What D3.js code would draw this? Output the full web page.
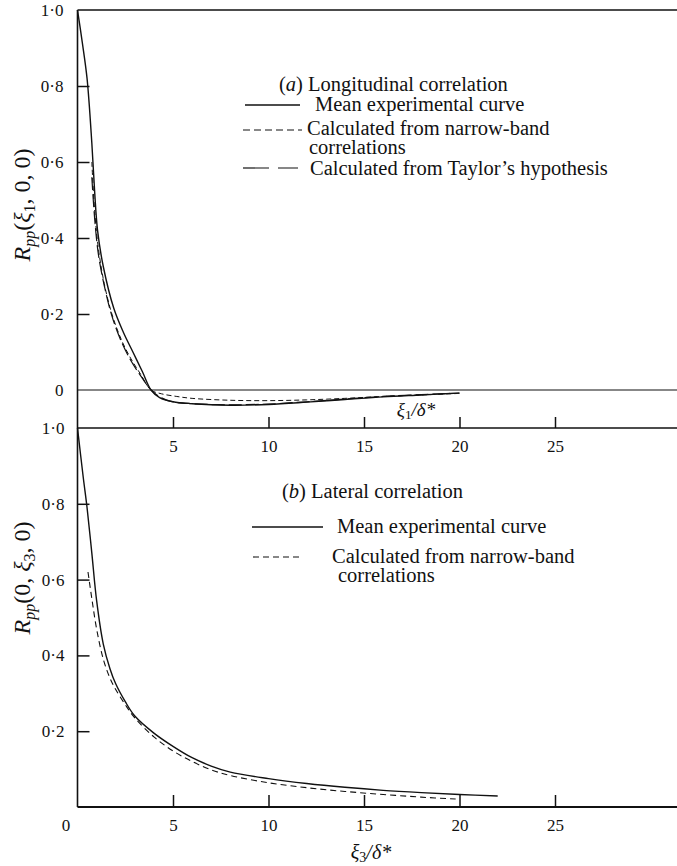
<!DOCTYPE html>
<html><head><meta charset="utf-8">
<script src="https://cdn.jsdelivr.net/npm/d3@7"></script>
<style>
body{margin:0;background:#fff;}
svg text{font-family:"Liberation Serif","Times New Roman",serif;fill:#111;}
</style></head>
<body>
<svg id="chart" width="677" height="866"></svg>
<script>
// ---- data ----
const xTicks = [5, 10, 15, 20, 25];
const xTicksBottom = [0, 5, 10, 15, 20, 25];
const yTicksA = [0, 0.2, 0.4, 0.6, 0.8, 1.0];
const yTicksB = [0.2, 0.4, 0.6, 0.8, 1.0];

// (a) Longitudinal correlation
const aMeanX = [0, 0.25, 0.5, 0.75, 0.9, 1.05, 1.35, 1.9, 2.4, 2.9, 3.4, 3.85, 4.3, 5, 6, 8, 10, 12, 14, 16, 18, 20];
const aMeanY = [1.0, 0.915, 0.82, 0.65, 0.52, 0.42, 0.325, 0.215, 0.152, 0.1, 0.048, 0.0, -0.02, -0.031, -0.036, -0.040, -0.038, -0.032, -0.025, -0.018, -0.013, -0.008];
const aNarrowX = [0.75, 0.9, 1.1, 1.4, 1.8, 2.3, 2.8, 3.3, 3.85, 4.4, 5.2, 6, 8, 10, 12, 14, 16, 18, 20];
const aNarrowY = [0.6, 0.47, 0.37, 0.28, 0.2, 0.132, 0.082, 0.042, 0.0, -0.01, -0.017, -0.022, -0.027, -0.028, -0.026, -0.022, -0.017, -0.013, -0.009];
const aTaylorX = [0.75, 0.9, 1.1, 1.4, 1.8, 2.3, 2.8, 3.3, 3.85, 4.3, 4.9, 6, 8, 10, 12, 14, 16, 18, 19.5];
const aTaylorY = [0.56, 0.45, 0.355, 0.275, 0.195, 0.127, 0.077, 0.038, 0.0, -0.018, -0.03, -0.036, -0.039, -0.037, -0.031, -0.024, -0.017, -0.012, -0.009];

// (b) Lateral correlation
const bMeanX = [0, 0.3, 0.5, 0.75, 1.0, 1.35, 1.7, 2.0, 2.5, 3.0, 4.0, 5.0, 6.0, 7.0, 8.0, 10, 12, 14, 16, 18, 20, 22];
const bMeanY = [1.0, 0.87, 0.79, 0.67, 0.545, 0.43, 0.365, 0.325, 0.278, 0.24, 0.195, 0.16, 0.13, 0.108, 0.092, 0.075, 0.062, 0.052, 0.044, 0.038, 0.033, 0.029];
const bNarrowX = [0.55, 0.75, 1.0, 1.35, 1.7, 2.0, 2.5, 3.0, 4.0, 5, 6, 7, 8, 10, 12, 14, 16, 18, 19.8];
const bNarrowY = [0.62, 0.55, 0.47, 0.39, 0.34, 0.31, 0.27, 0.235, 0.185, 0.148, 0.12, 0.098, 0.083, 0.064, 0.051, 0.041, 0.033, 0.026, 0.021];

const fmt = v => v === 0 ? "0" : d3.format(".1f")(v).replace(".", "\u00B7");

// ---- scales ----
const svg = d3.select("#chart");
const x = d3.scaleLinear().domain([0, 25]).range([77.5, 77.5 + 25 * 19.1]);
const yA = d3.scaleLinear().domain([0, 1]).range([390, 10]);
const yB = d3.scaleLinear().domain([0, 1]).range([807, 428]);
const rightEdge = 677;

const frame = svg.append("g").attr("stroke", "#111").attr("fill", "none");
frame.append("line").attr("x1", x(0)).attr("x2", x(0)).attr("y1", yA(1)).attr("y2", yB(0)).attr("stroke-width", 1.6);
[[yA(1), 1.6], [yA(0), 1.1], [yB(1), 1.6], [yB(0), 1.8]].forEach(([yy, w]) => {
  frame.append("line").attr("x1", x(0)).attr("x2", rightEdge).attr("y1", yy).attr("y2", yy).attr("stroke-width", w);
});

function styleAxis(g) {
  g.select(".domain").remove();
  g.selectAll(".tick line").attr("stroke", "#111").attr("stroke-width", 1.5);
  g.selectAll(".tick text").attr("font-size", 17).attr("fill", "#111")
    .attr("font-family", "Liberation Serif, serif");
}

svg.append("g").attr("transform", `translate(${x(0)},0)`)
  .call(d3.axisLeft(yA).tickValues(yTicksA).tickSize(-12).tickPadding(14).tickFormat(fmt))
  .call(styleAxis)
  .call(g => g.selectAll(".tick line").filter(d => d === 0 || d === 1).remove());
svg.append("g").attr("transform", `translate(${x(0)},0)`)
  .call(d3.axisLeft(yB).tickValues(yTicksB).tickSize(-12).tickPadding(13).tickFormat(fmt))
  .call(styleAxis)
  .call(g => g.selectAll(".tick line").filter(d => d === 1).remove());

svg.append("g").attr("transform", `translate(0,${yB(1)})`)
  .call(d3.axisBottom(x).tickValues(xTicks).tickSize(-11).tickPadding(12).tickFormat(d3.format("d")))
  .call(styleAxis);
svg.append("g").attr("transform", `translate(0,${yB(0)})`)
  .call(d3.axisBottom(x).tickValues(xTicksBottom).tickSize(-12).tickPadding(12).tickFormat(d3.format("d")))
  .call(styleAxis)
  .call(g => {
    g.selectAll(".tick").filter(d => d === 0).select("line").remove();
    g.selectAll(".tick").filter(d => d === 0).select("text").attr("x", -12);
  });

// ---- curves ----
const line = (ys) => d3.line().x(d => x(d[0])).y(d => ys(d[1])).curve(d3.curveCatmullRom.alpha(0.5));
const zip = (a, b) => a.map((v, i) => [v, b[i]]);
const curves = svg.append("g").attr("fill", "none").attr("stroke", "#111");
curves.append("path").attr("d", line(yA)(zip(aMeanX, aMeanY))).attr("stroke-width", 1.4);
curves.append("path").attr("d", line(yA)(zip(aNarrowX, aNarrowY))).attr("stroke-width", 1.0).attr("stroke-dasharray", "5,3");
curves.append("path").attr("d", line(yA)(zip(aTaylorX, aTaylorY))).attr("stroke-width", 1.2).attr("stroke-dasharray", "13,4");
curves.append("path").attr("d", line(yB)(zip(bMeanX, bMeanY))).attr("stroke-width", 1.4);
curves.append("path").attr("d", line(yB)(zip(bNarrowX, bNarrowY))).attr("stroke-width", 1.1).attr("stroke-dasharray", "6,4");

// ---- legends ----
const LF = 20.5;
function txt(xp, yp, size) {
  return svg.append("text").attr("x", xp).attr("y", yp).attr("font-size", size);
}
function twoLine(xp, yp, l1, x2, l2, gap) {
  const t = txt(xp, yp, LF);
  t.append("tspan").attr("x", xp).text(l1);
  t.append("tspan").attr("x", x2).attr("dy", gap).text(l2);
}
function leg(x1, x2, yp, dash, w) {
  svg.append("line").attr("x1", x1).attr("x2", x2).attr("y1", yp).attr("y2", yp)
    .attr("stroke", "#111").attr("stroke-width", w).attr("stroke-dasharray", dash);
}
// (a)
let t = txt(279, 91, LF);
t.append("tspan").text("(");
t.append("tspan").attr("font-style", "italic").text("a");
t.append("tspan").text(")  Longitudinal correlation");
leg(245, 300, 105, null, 1.3);
txt(315, 111, LF).text("Mean experimental curve");
leg(243, 302, 130, "7,4", 1);
twoLine(307, 135, "Calculated from narrow-band", 309, "correlations", 19);
leg(243, 298, 168, "26,9", 1.2);
txt(310, 175, LF).text("Calculated from Taylor\u2019s hypothesis");

// (b)
t = txt(282, 498, LF);
t.append("tspan").text("(");
t.append("tspan").attr("font-style", "italic").text("b");
t.append("tspan").text(")  Lateral correlation");
leg(252, 323, 527, null, 1.3);
txt(337, 533, LF).text("Mean experimental curve");
leg(253, 303, 557, "6,4", 1.1);
twoLine(332, 563, "Calculated from narrow-band", 338, "correlations", 19);

// ---- axis titles ----
function yTitle(cx, cy, mid) {
  const g = svg.append("text").attr("transform", `translate(${cx},${cy}) rotate(-90)`)
    .attr("text-anchor", "middle").attr("font-size", 24);
  g.append("tspan").attr("font-style", "italic").text("R");
  g.append("tspan").attr("font-style", "italic").attr("font-size", 16).attr("dy", 5).text("pp");
  g.append("tspan").attr("dy", -5).text(mid[0]);
  g.append("tspan").attr("font-style", "italic").text("\u03BE");
  g.append("tspan").attr("font-size", 16).attr("dy", 5).text(mid[1]);
  g.append("tspan").attr("dy", -5).text(mid[2]);
}
yTitle(30, 205, ["(", "1", ", 0, 0)"]);
yTitle(30, 578, ["(0, ", "3", ", 0)"]);

function xTitle(cx, cy, sub, size) {
  const g = svg.append("text").attr("x", cx).attr("y", cy).attr("text-anchor", "middle").attr("font-size", size).attr("font-style", "italic");
  g.append("tspan").text("\u03BE");
  g.append("tspan").attr("font-size", size * 0.7).attr("dy", 3).attr("font-style", "normal").text(sub);
  g.append("tspan").attr("dy", -3).text("/\u03B4*");
}
xTitle(416, 416, "1", 19);
xTitle(371, 859, "3", 20);
</script>
</body></html>
